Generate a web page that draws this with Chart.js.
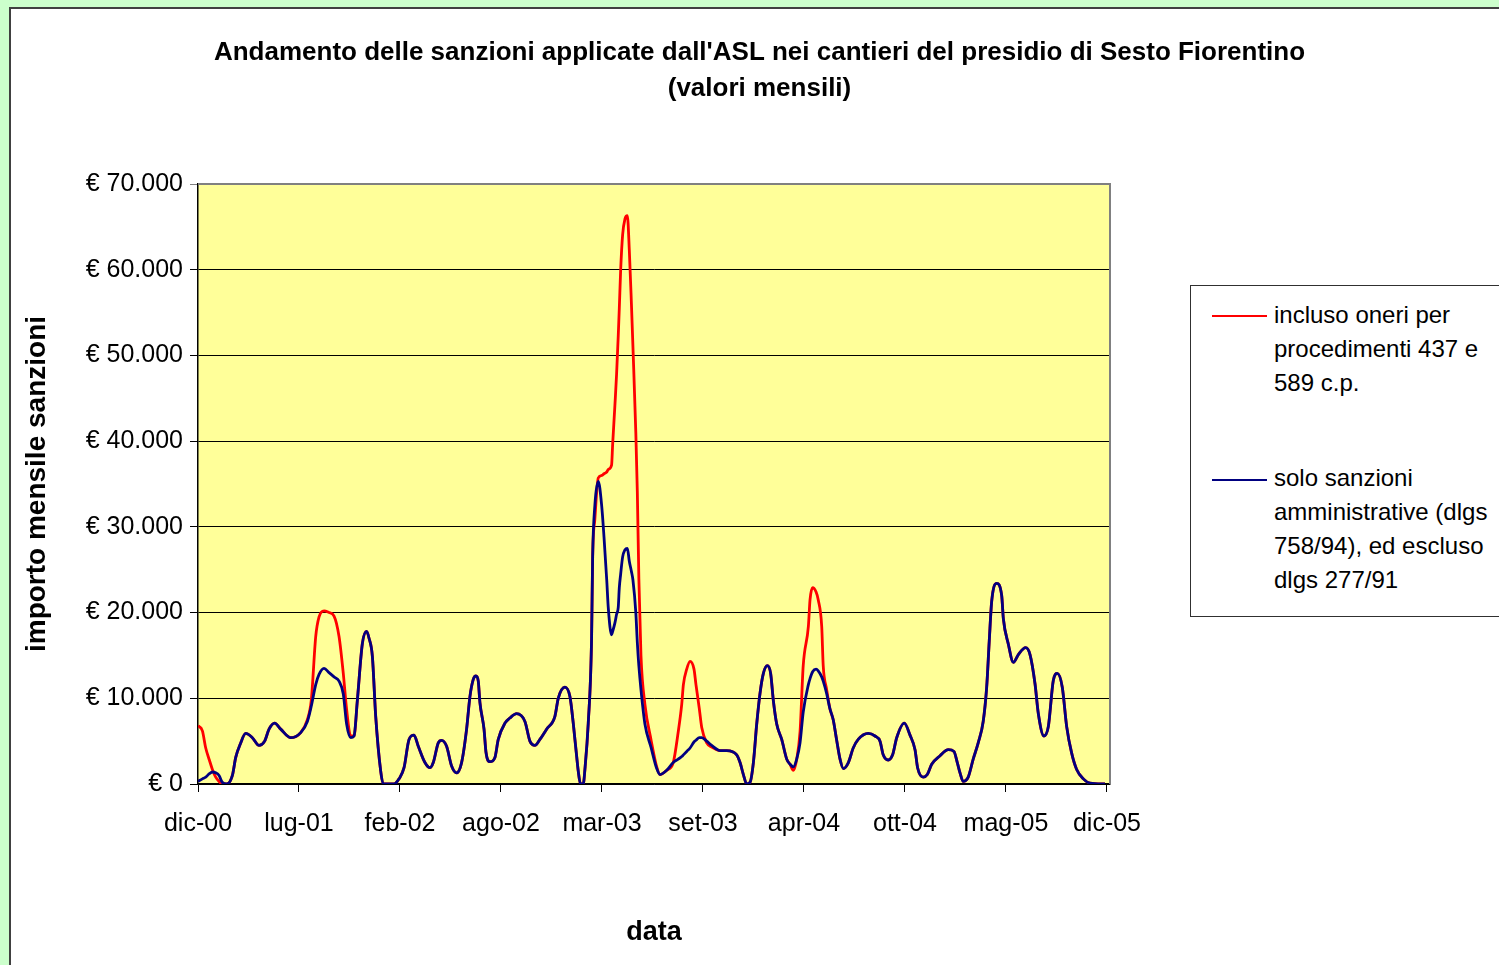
<!DOCTYPE html>
<html lang="it">

<head>
    <meta charset="UTF-8">
    <title>Andamento delle sanzioni ASL - Sesto Fiorentino</title>
    <script src="https://cdn.jsdelivr.net/npm/chart.js"></script>
    <style>
        html, body {
            margin: 0;
            padding: 0;
            width: 1499px;
            height: 965px;
            overflow: hidden;
            background-color: #ccffcc;
            font-family: "Liberation Sans", Arial, sans-serif;
        }

        #frame {
            position: absolute;
            left: 9px;
            top: 7px;
            right: 0;
            bottom: 0;
            background-color: white;
            border-left: 2px solid #404040;
            border-top: 2px solid #404040;
        }

        #chart {
            position: absolute;
            left: 0;
            top: 0;
        }

        #legend {
            position: absolute;
            left: 1190px;
            top: 285px;
            width: 340px;
            height: 330px;
            border: 1px solid #303030;
            background-color: white;
        }

        .swatch {
            position: absolute;
            left: 21px;
            width: 55px;
            height: 2px;
        }

        .label {
            position: absolute;
            left: 83px;
            font-size: 24px;
            line-height: 34px;
            white-space: nowrap;
            color: black;
        }
    </style>
</head>

<body>
    <div id="frame"></div>
    <canvas id="chart" width="1499" height="965"></canvas>
    <div id="legend">
        <div class="swatch" style="top:29px; background:#ff0000;"></div>
        <div class="label" style="top:12px;">incluso oneri per<br>procedimenti 437 e<br>589 c.p.</div>
        <div class="swatch" style="top:193px; background:#000080;"></div>
        <div class="label" style="top:175px;">solo sanzioni<br>amministrative (dlgs<br>758/94), ed escluso<br>dlgs 277/91</div>
    </div>

    <script>
        // posizione sull'asse: mesi trascorsi da dic-00
        const mesi = [
            0.00, 0.29, 0.51, 0.75, 0.95, 1.17, 1.39, 1.60, 1.90, 2.27,
            2.49, 2.80, 3.15, 3.59, 4.03, 4.40, 4.69, 5.06, 5.46, 6.12,
            6.78, 7.22, 7.48, 7.77, 7.99, 8.32, 8.65, 8.98, 9.31, 9.59,
            9.81, 10.08, 10.30, 10.52, 10.85, 11.13, 11.29, 11.51, 11.73, 12.06,
            12.23, 12.94, 13.27, 13.60, 13.93, 14.26, 14.54, 14.98, 15.31, 15.53,
            15.86, 16.08, 16.41, 16.74, 17.07, 17.40, 17.73, 17.95, 18.17, 18.35,
            18.50, 18.61, 18.88, 19.01, 19.27, 19.60, 19.82, 20.26, 20.59, 21.03,
            21.58, 21.91, 22.24, 22.57, 23.01, 23.56, 23.78, 24.22, 24.55, 24.77,
            24.99, 25.10, 25.25, 25.43, 25.54, 25.76, 25.98, 26.05, 26.20, 26.42,
            26.65, 26.80, 26.98, 27.08, 27.30, 27.37, 27.52, 27.63, 27.74, 27.81,
            27.90, 28.03, 28.18, 28.34, 28.47, 28.61, 28.71, 28.90, 29.00, 29.10,
            29.24, 29.50, 29.90, 30.28, 30.50, 30.94, 31.37, 31.70, 31.93, 32.04,
            32.26, 32.48, 32.74, 32.87, 33.09, 33.25, 33.58, 33.91, 34.46, 34.90,
            35.56, 35.78, 36.00, 36.22, 36.44, 36.66, 36.88, 37.10, 37.32, 37.58,
            37.80, 37.98, 38.20, 38.53, 38.86, 39.08, 39.30, 39.52, 39.74, 39.95,
            40.29, 40.40, 40.57, 40.80, 40.94, 41.17, 41.27, 41.49, 41.71, 41.93,
            42.15, 42.38, 42.60, 42.93, 43.25, 43.58, 44.24, 44.69, 45.02, 45.23,
            45.56, 45.85, 46.12, 46.62, 47.00, 47.33, 47.50, 47.87, 48.14, 48.43,
            48.98, 49.53, 49.90, 50.12, 50.30, 50.51, 50.84, 51.17, 51.50, 51.83,
            52.06, 52.23, 52.39, 52.72, 53.05, 53.16, 53.49, 53.82, 54.15, 54.63,
            54.92, 55.25, 55.47, 55.84, 56.13, 56.46, 56.72, 57.05, 57.34, 57.67,
            58.00, 58.44, 58.88, 59.87
        ];

        // incluso oneri per procedimenti 437 e 589 c.p. (euro)
        const incluso = [
            6800, 6200, 4200, 2800, 1700, 800, 300, 0, 0, 1000,
            3100, 4700, 5900, 5400, 4500, 5000, 6400, 7100, 6400, 5400,
            6000, 7500, 9800, 17200, 19500, 20200, 20000, 19600, 17200, 12900,
            8700, 5600, 5600, 9800, 16400, 17800, 17000, 14900, 7900, 1500,
            0, 0, 600, 1900, 5200, 5700, 4400, 2500, 1900, 2500,
            4800, 5100, 4400, 2100, 1300, 2500, 6400, 10200, 12200, 12600,
            12000, 9500, 6400, 3700, 2600, 3100, 5200, 7100, 7700, 8200,
            7300, 5000, 4500, 5200, 6400, 7900, 10000, 11300, 10200, 7100,
            3300, 1500, 0, 0, 1700, 7100, 17000, 26500, 31000, 35700,
            36000, 36200, 36400, 36700, 37200, 39600, 44200, 47800, 52300, 55500,
            60000, 64100, 65900, 66300, 62300, 56000, 51000, 41000, 34000, 24000,
            15000, 9300, 5200, 2000, 1100, 1600, 2500, 6100, 9300, 11600,
            13400, 14300, 13400, 11600, 8800, 6600, 4800, 4300, 3900, 3900,
            3400, 2500, 1100, 0, 200, 2500, 7000, 10600, 12900, 13800,
            12900, 9700, 7000, 5200, 2900, 2300, 1600, 2900, 6100, 13800,
            18400, 21500, 22900, 22400, 21500, 18400, 13800, 11100, 8800, 7500,
            5200, 2900, 1800, 2500, 4200, 5200, 5900, 5600, 5000, 3400,
            2800, 3400, 5400, 7100, 5700, 4000, 1900, 800, 1100, 2300,
            3300, 4000, 3800, 2500, 1300, 300, 800, 2900, 4800, 7300,
            11300, 16700, 21300, 23400, 22000, 19300, 16300, 14200, 15100, 15900,
            15100, 11700, 8200, 5600, 6700, 12100, 12900, 11300, 6700, 3600,
            1700, 600, 100, 0
        ];

        // solo sanzioni amministrative (euro)
        const solo = [
            300, 600, 800, 1200, 1400, 1300, 1000, 200, 0, 1000,
            3100, 4700, 5900, 5400, 4500, 5000, 6400, 7100, 6400, 5400,
            6000, 7300, 9100, 11600, 12800, 13500, 13000, 12500, 12000, 10500,
            7000, 5400, 5600, 9800, 16400, 17800, 17000, 14900, 7900, 1500,
            0, 0, 600, 1900, 5200, 5700, 4400, 2500, 1900, 2500,
            4800, 5100, 4400, 2100, 1300, 2500, 6400, 10200, 12200, 12600,
            12000, 9500, 6400, 3700, 2600, 3100, 5200, 7100, 7700, 8200,
            7300, 5000, 4500, 5200, 6400, 7900, 10000, 11300, 10200, 7100,
            3300, 1500, 0, 0, 1700, 7100, 17000, 26500, 32600, 35300,
            32400, 28800, 23800, 20600, 17400, 17800, 18800, 19800, 20600, 22900,
            24500, 26500, 27300, 27500, 26000, 24800, 23800, 20000, 16500, 13800,
            11000, 7000, 4300, 1800, 1100, 1600, 2500, 2900, 3200, 3400,
            3800, 4200, 4900, 5100, 5400, 5400, 5000, 4500, 3900, 3900,
            3400, 2500, 1100, 0, 200, 2500, 7000, 10600, 12900, 13800,
            12900, 9700, 7000, 5200, 2900, 2300, 2000, 2900, 4800, 8400,
            11600, 12300, 13100, 13400, 13200, 12500, 12000, 10600, 8800, 7500,
            5200, 2900, 1800, 2500, 4200, 5200, 5900, 5600, 5000, 3400,
            2800, 3400, 5400, 7100, 5700, 4000, 1900, 800, 1100, 2300,
            3300, 4000, 3800, 2500, 1300, 300, 800, 2900, 4800, 7300,
            11300, 16700, 21300, 23400, 22000, 19300, 16300, 14200, 15100, 15900,
            15100, 11700, 8200, 5600, 6700, 12100, 12900, 11300, 6700, 3600,
            1700, 600, 100, 0
        ];

        const tickLabels = ['dic-00', 'lug-01', 'feb-02', 'ago-02', 'mar-03', 'set-03', 'apr-04', 'ott-04', 'mag-05', 'dic-05'];

        const fontFamily = '"Liberation Sans", Arial, sans-serif';

        function punti(valori) {
            return mesi.map(function (m, i) {
                return { x: m, y: valori[i] };
            });
        }

        function euro(v) {
            if (v === 0) return '€ 0';
            return '€ ' + String(v).replace(/\B(?=(\d{3})+(?!\d))/g, '.');
        }

        // sfondo giallo e bordo grigio dell'area del grafico
        const plotArea = {
            id: 'plotArea',
            beforeDraw(chart) {
                const { ctx, chartArea: a } = chart;
                ctx.save();
                ctx.fillStyle = '#ffff99';
                ctx.fillRect(a.left, a.top, a.right - a.left, a.bottom - a.top);
                ctx.restore();
            },
            afterDraw(chart) {
                const { ctx, chartArea: a } = chart;
                ctx.save();
                ctx.strokeStyle = '#808080';
                ctx.lineWidth = 2;
                ctx.beginPath();
                ctx.moveTo(a.left, a.top);
                ctx.lineTo(a.right, a.top);
                ctx.lineTo(a.right, a.bottom);
                ctx.stroke();
                ctx.restore();
            }
        };

        new Chart(document.getElementById('chart'), {
            type: 'line',
            data: {
                datasets: [{
                    label: 'incluso oneri per procedimenti 437 e 589 c.p.',
                    data: punti(incluso),
                    borderColor: '#ff0000',
                    borderWidth: 2.8,
                    pointRadius: 0,
                    cubicInterpolationMode: 'monotone',
                    order: 2
                }, {
                    label: 'solo sanzioni amministrative (dlgs 758/94), ed escluso dlgs 277/91',
                    data: punti(solo),
                    borderColor: '#000080',
                    borderWidth: 2.8,
                    pointRadius: 0,
                    cubicInterpolationMode: 'monotone',
                    order: 1
                }]
            },
            options: {
                responsive: false,
                animation: false,
                layout: {
                    padding: { left: 20, top: 0, right: 0, bottom: 12 }
                },
                plugins: {
                    legend: { display: false },
                    tooltip: { enabled: false },
                    title: {
                        display: true,
                        text: ["Andamento delle sanzioni applicate dall'ASL nei cantieri del presidio di Sesto Fiorentino", '(valori mensili)'],
                        color: '#000',
                        font: { family: fontFamily, size: 26, weight: 'bold', lineHeight: 1.385 },
                        padding: { top: 35, bottom: 77 }
                    }
                },
                scales: {
                    x: {
                        type: 'linear',
                        min: 0,
                        max: 60.2,
                        afterBuildTicks(scale) {
                            scale.ticks = tickLabels.map(function (l, i) {
                                return { value: i * 60 / 9 };
                            });
                        },
                        afterFit(scale) {
                            scale.height = 169;
                        },
                        ticks: {
                            autoSkip: false,
                            maxRotation: 0,
                            padding: 17,
                            color: '#000',
                            font: { family: fontFamily, size: 25 },
                            callback: function (value, index) {
                                return tickLabels[index];
                            }
                        },
                        grid: {
                            drawOnChartArea: false,
                            drawTicks: true,
                            tickLength: 8,
                            color: '#000'
                        },
                        border: { color: '#000', width: 1.5 },
                        title: {
                            display: true,
                            text: 'data',
                            color: '#000',
                            font: { family: fontFamily, size: 27, weight: 'bold' }
                        }
                    },
                    y: {
                        min: 0,
                        max: 70000,
                        afterFit(scale) {
                            scale.width = 178;
                        },
                        ticks: {
                            stepSize: 10000,
                            padding: 7,
                            color: '#000',
                            font: { family: fontFamily, size: 25 },
                            callback: euro
                        },
                        grid: {
                            color: function (c) {
                                return c.tick && c.tick.value === 70000 ? '#808080' : '#000';
                            },
                            lineWidth: 1,
                            tickLength: 8
                        },
                        border: { color: '#000', width: 1.5 },
                        title: {
                            display: true,
                            text: 'importo mensile sanzioni',
                            color: '#000',
                            font: { family: fontFamily, size: 28, weight: 'bold' },
                            padding: 0
                        }
                    },
                    // spazio vuoto a destra per la legenda
                    spazio: {
                        position: 'right',
                        afterFit(scale) {
                            scale.width = 389;
                        },
                        ticks: { display: false },
                        grid: { display: false },
                        border: { display: false }
                    }
                }
            },
            plugins: [plotArea]
        });
    </script>
</body>

</html>
